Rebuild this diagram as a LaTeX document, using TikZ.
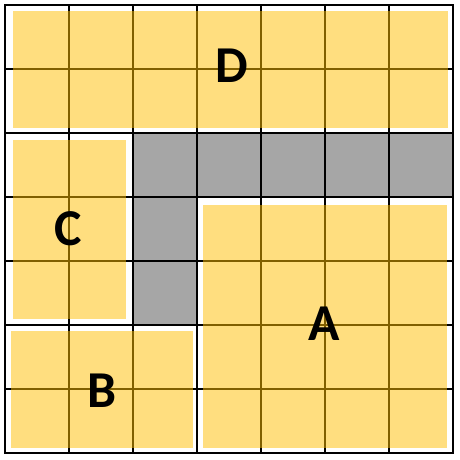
\documentclass[tikz,border=0pt]{standalone}
\usepackage{fontspec}
\setmainfont{Carlito}
\usepackage{xcolor}
\definecolor{tilegold}{RGB}{255,190,0}
\definecolor{blockgray}{RGB}{166,166,166}

\tikzset{
    piece/.style={fill=tilegold, fill opacity=0.5},
    blocked/.style={fill=blockgray},
    lbl/.style={font=\fontsize{23}{23}\selectfont\bfseries, inner sep=0pt}
}

\begin{document}
\begin{tikzpicture}
        \useasboundingbox (-0.078,-0.109) rectangle (7.094,7.078);

        % blocked cells
        \fill[blocked] (2,4) rectangle (7,5);
        \fill[blocked] (2,2) rectangle (3,4);

        % board
        \draw[line width=0.5pt, step=1] (0,0) grid (7,7);
        \draw[line width=0.5pt] (0,0) rectangle (7,7);

        % pieces
        \fill[piece] (0.12,5.08) rectangle (6.92,6.9);
        \fill[piece] (0.12,2.09) rectangle (1.89,4.89);
        \fill[piece] (0.09,0.08) rectangle (2.93,1.91);
        \fill[piece] (3.09,0.08) rectangle (6.91,3.88);

        \node[lbl] (labD) at (3.55, 6.05) {D};
        \node[lbl] (labC) at (0.98, 3.50) {C};
        \node[lbl] (labB) at (1.52, 0.98) {B};
        \node[lbl] (labA) at (4.98, 2.02) {A};
    \end{tikzpicture}
\end{document}
